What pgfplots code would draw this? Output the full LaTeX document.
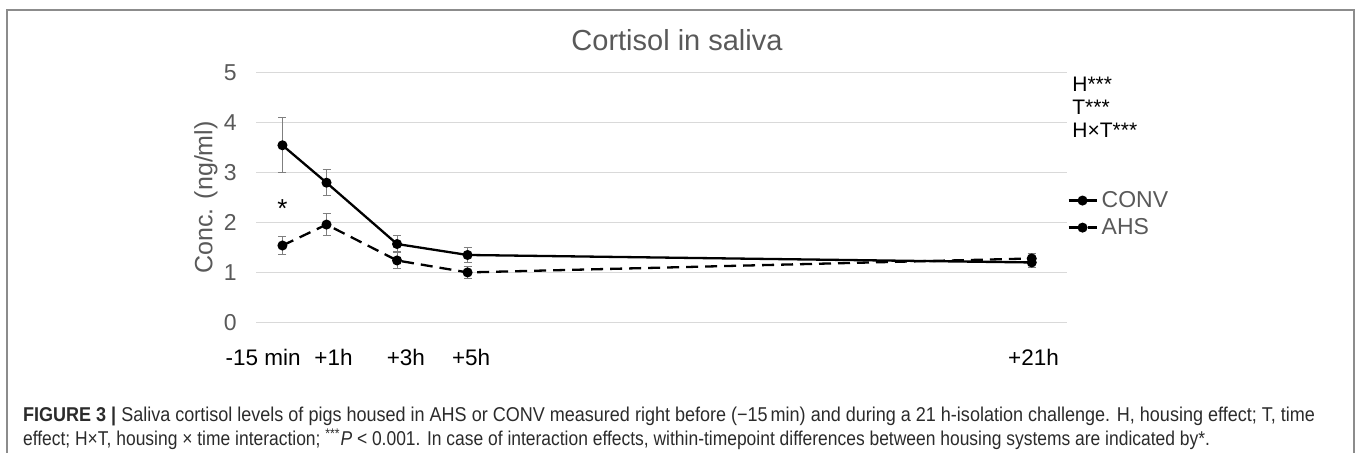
\documentclass[border=0pt]{standalone}
\usepackage{fontspec}
\setmainfont{Liberation Sans}
\usepackage{graphicx}
\usepackage{pgfplots}
\pgfplotsset{compat=1.18}
\definecolor{txtgray}{HTML}{595959}
\definecolor{gridgray}{HTML}{D9D9D9}
\definecolor{errgray}{HTML}{7F7F7F}
\definecolor{framegray}{HTML}{8C8C8C}
\definecolor{capcol}{HTML}{2B2B2B}
\begin{document}
\begin{tikzpicture}[x=1pt,y=1pt]
\useasboundingbox (0,0) rectangle (678.5,226.5);
\begin{scope}
\clip (0,0) rectangle (678.5,226.5);
\draw[framegray, line width=0.9pt] (3.5,-10) -- (3.5,221.5) -- (677,221.5) -- (677,-10);
\end{scope}
\begin{axis}[
  at={(128pt,65.35pt)}, anchor=south west, scale only axis,
  width=405.5pt, height=124.65pt,
  xmin=-1, xmax=22, ymin=0, ymax=5,
  axis line style={draw=none},
  major tick length=0pt,
  ymajorgrids, grid style={gridgray, line width=0.5pt},
  ytick={0,1,2,3,4,5},
  xtick={-0.8,1.2,3.25,5.1,21.05},
  xticklabels={-15 min,+1h,+3h,+5h,+21h},
  /pgf/number format/assume math mode=true,
  yticklabel style={font=\fontsize{11.5}{13}\selectfont, text=txtgray, inner sep=0pt, anchor=east, xshift=-9.5pt},
  xticklabel style={font=\fontsize{11.25}{13}\selectfont, text=black, inner sep=0pt, anchor=base, yshift=-21.5pt},
  clip=false,
  legend style={draw=none, fill=none, at={(1.0,0.434)}, anchor=west, inner sep=0pt,
    font=\fontsize{11.5}{13}\selectfont, text=txtgray},
  legend cell align=left,
  legend image code/.code={\draw[#1, mark repeat=2, mark phase=2] plot coordinates {(0pt,0pt) (7pt,0pt) (14pt,0pt)};},
]
\addplot[black, line width=1.15pt, mark=*, mark size=1.9pt, mark options={solid},
  error bars/.cd, y dir=both, y explicit,
  error bar style={errgray, line width=0.5pt, solid},
  error mark options={rotate=90, errgray, mark size=2pt, line width=0.5pt, solid}]
  coordinates {(-0.25,3.55) +- (0,0.55) (1,2.80) +- (0,0.26) (3,1.57) +- (0,0.17) (5,1.35) +- (0,0.15) (21,1.20) +- (0,0.10)};
\addlegendentry{CONV}
\addplot[black, line width=1.15pt, dash pattern=on 6pt off 3.5pt, mark=*, mark size=1.9pt, mark options={solid},
  error bars/.cd, y dir=both, y explicit,
  error bar style={errgray, line width=0.5pt, solid},
  error mark options={rotate=90, errgray, mark size=2pt, line width=0.5pt, solid}]
  coordinates {(-0.25,1.54) +- (0,0.19) (1,1.96) +- (0,0.22) (3,1.24) +- (0,0.17) (5,1.00) +- (0,0.12) (21,1.28) +- (0,0.10)};
\addlegendentry{AHS}
\node[anchor=base, inner sep=0pt, font=\fontsize{13}{15}\selectfont] at (axis cs:-0.25,2.11) {*};
\end{axis}
\node[anchor=base, inner sep=0pt, font=\fontsize{14.5}{17}\selectfont, text=txtgray] at (338.5,201) {Cortisol in saliva};
\node[rotate=90, inner sep=0pt, font=\fontsize{12.5}{14}\selectfont, text=txtgray] at (103,127.75) {Conc. (ng/ml)};
\node[anchor=base west, inner sep=0pt, font=\fontsize{10.5}{12}\selectfont] at (536,180.5) {H***};
\node[anchor=base west, inner sep=0pt, font=\fontsize{10.5}{12}\selectfont] at (536,169) {T***};
\node[anchor=base west, inner sep=0pt, font=\fontsize{10.5}{12}\selectfont] at (536,157.5) {H×T***};
\node[anchor=base west, inner sep=0pt, text=capcol] at (11.35,15.5) {\resizebox{646pt}{\height}{\fontsize{10}{12}\selectfont\textbf{FIGURE 3 |} Saliva cortisol levels of pigs housed in AHS or CONV measured right before (−15\,min) and during a 21 h-isolation challenge. H, housing effect; T, time}};
\node[anchor=base west, inner sep=0pt, text=capcol] at (11.35,3.5) {\resizebox{593.5pt}{\height}{\fontsize{10}{12}\selectfont effect; H×T, housing × time interaction; \textsuperscript{***}\textit{P} < 0.001. In case of interaction effects, within-timepoint differences between housing systems are indicated by*.}};
\end{tikzpicture}
\end{document}
